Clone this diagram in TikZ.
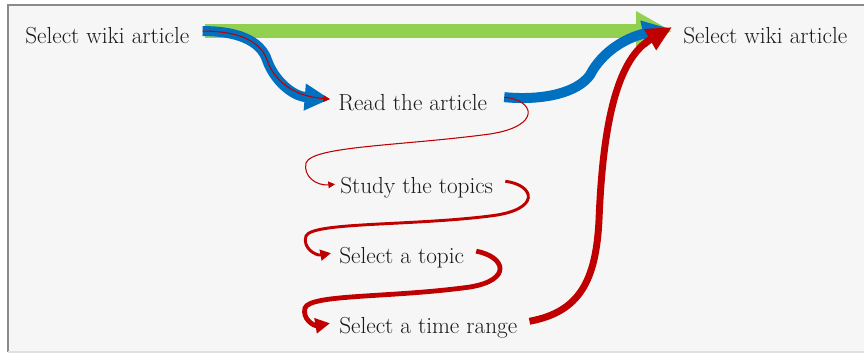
\documentclass[tikz,border=0pt]{standalone}
\usetikzlibrary{arrows.meta,calc}
\definecolor{bgpaper}{HTML}{F6F6F6}
\definecolor{framegray}{HTML}{8A8A8A}
\definecolor{flowgreen}{HTML}{92D050}
\definecolor{flowblue}{HTML}{0070C0}
\definecolor{flowred}{HTML}{C00000}
\begin{document}
\begin{tikzpicture}[x=0.75pt,y=-0.75pt,
  label/.style={inner sep=0pt,anchor=base west,font=\fontsize{17.4}{20}\selectfont,text=black!90},
  greenflow/.style={draw=flowgreen,line width=10pt,-{Triangle[length=27pt,width=28pt]}},
  blueflow/.style={draw=flowblue,line width=7.5pt,-{Triangle[length=19pt,width=19pt]}},
  redthin/.style={draw=flowred,line width=0.8pt,-{Triangle[length=5pt,width=5pt]}},
  redmid/.style={draw=flowred,line width=2.2pt,-{Triangle[length=8pt,width=8pt]}},
  redthick/.style={draw=flowred,line width=3.6pt,-{Triangle[length=11pt,width=11pt]}},
  redheavy/.style={draw=flowred,line width=5.2pt,-{Triangle[length=19pt,width=17pt]}}]
% paper and frame
\useasboundingbox (0,0) rectangle (864,355);
\fill[white] (0,0) rectangle (864,355);
\fill[bgpaper] (8,5) rectangle (864,352);
\draw[framegray,line width=1.5pt] (8,352) -- (8,5) -- (864,5);
\draw[black!12,line width=0.8pt] (8,352) -- (864,352);

% steps
\node[label] (src)   at (25,43)  {Select wiki article};
\node[label] (dst)   at (683,43) {Select wiki article};
\node[label] (read)  at (338,110) {Read the article};
\node[label] (study) at (340,193) {Study the topics};
\node[label] (topic) at (339,263) {Select a topic};
\node[label] (range) at (339,333) {Select a time range};

% direct jump
\path[greenflow] ($(src.east)+(15,-4)$) -- ($(dst.west)+(-11,-4)$);

% reading route
\path[blueflow] ($(src.east)+(13,-4)$) .. controls (245,31) and (262,45) .. (267,60)
   .. controls (274,80) and (292,96) .. ($(read.west)+(-8,-3)$);
\path[redthin] ($(src.east)+(13,-4)$) .. controls (245,31) and (262,45) .. (267,60)
   .. controls (274,80) and (292,96) .. ($(read.west)+(-8,-3)$);
\path[blueflow] ($(read.east)+(17,-5)$) .. controls (545,101) and (578,92) .. (590,75)
   .. controls (602,52) and (625,38) .. ($(dst.west)+(-15,-7)$);

% exploration loop
\path[redthin] ($(read.east)+(17,-5)$) .. controls (535,100) and (542,126) .. (490,134)
   .. controls (400,146) and (312,146) .. (306,163)
   .. controls (303,176) and (316,186) .. ($(study.west)+(-5,-3)$);
\path[redmid] ($(study.east)+(12,-6)$) .. controls (535,185) and (542,210) .. (490,216)
   .. controls (410,226) and (312,222) .. (306,236)
   .. controls (302,248) and (316,256) .. ($(topic.west)+(-8,-4)$);
\path[redthick] ($(topic.east)+(12,-6)$) .. controls (506,257) and (512,280) .. (470,287)
   .. controls (390,298) and (310,294) .. (305,308)
   .. controls (302,319) and (314,326) .. ($(range.west)+(-9,-4)$);
\path[redheavy] ($(range.east)+(12,-6)$) .. controls (580,312) and (596,280) .. (599,220)
   .. controls (603,120) and (618,58) .. ($(dst.west)+(-11,-8)$);
\end{tikzpicture}
\end{document}
